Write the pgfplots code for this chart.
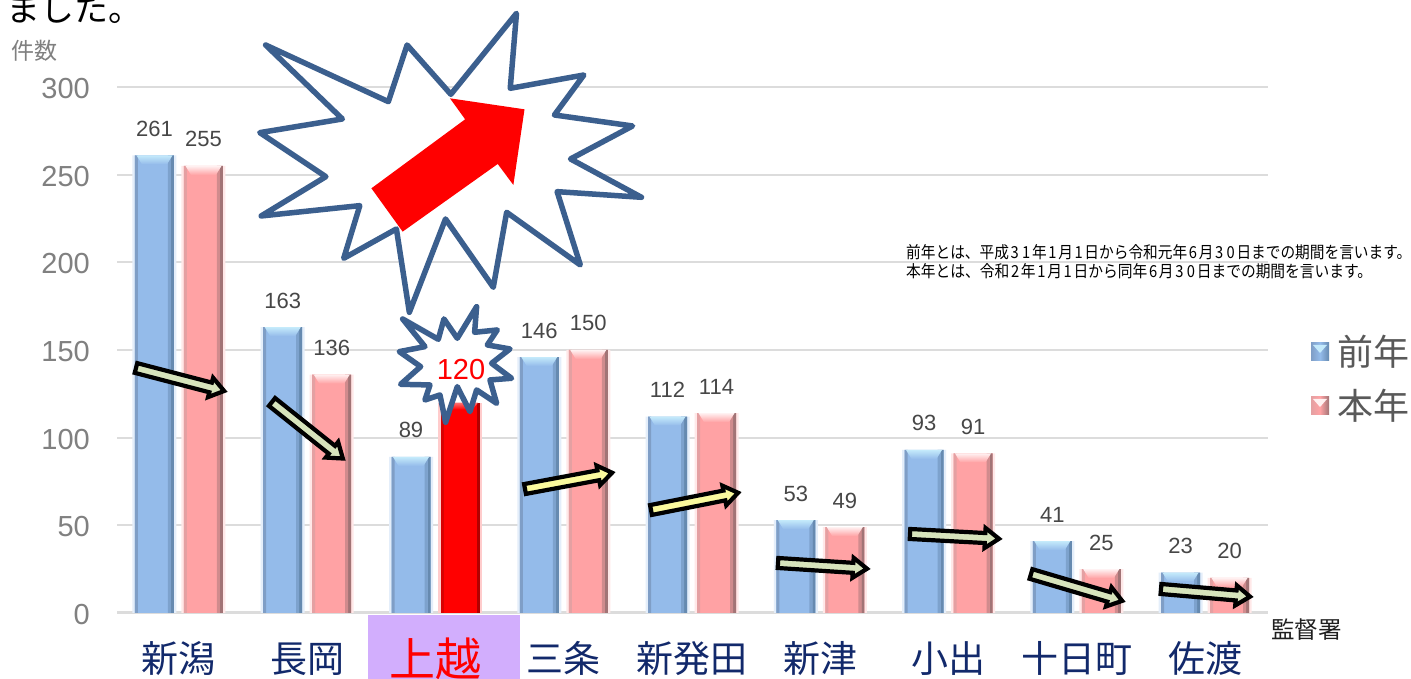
\documentclass[border=0pt]{standalone}
\usepackage{fontspec}
\usepackage{pgfplots}
\usepackage{pgfplotstable}
\pgfplotsset{compat=1.18}
\setmainfont{Liberation Sans}
\newfontfamily\cjk{Noto Sans CJK JP}
\newcommand\fs[1]{\fontsize{#1}{#1}\selectfont}
\definecolor{gridc}{HTML}{DCDCDC}
\definecolor{blueM}{HTML}{94BBEA}
\definecolor{blueL}{HTML}{7F9EC6}
\definecolor{blueR}{HTML}{668AB0}
\definecolor{pinkM}{HTML}{FFA2A4}
\definecolor{pinkL}{HTML}{E4A0A2}
\definecolor{pinkR}{HTML}{A27476}
\definecolor{starc}{HTML}{3B5F8E}
\definecolor{navy}{HTML}{12296B}
\definecolor{purp}{HTML}{D2AEFD}
\definecolor{arrG}{HTML}{D7E4BC}
\definecolor{arrY}{HTML}{FBFA9E}
\definecolor{capBl}{HTML}{C4EAFB}
\pgfplotstableread{
x y
0 261
1 163
2 89
3 146
4 112
5 53
6 93
7 41
8 23
}\blueT
\pgfplotstableread{
x y
0 255
1 136
3 150
4 114
5 49
6 91
7 25
8 20
}\pinkT
\pgfplotstableread{
x y
2 120
}\redT
\pgfdeclareplotmark{capB}{\shade[draw=none,top color=capBl,bottom color=blueM] (-42.5pt,0pt)--(-6.5pt,0pt)--(-12pt,-9pt)--(-37pt,-9pt)--cycle;}
\pgfdeclareplotmark{capP}{\shade[draw=none,top color=pinkM!15!white,bottom color=pinkM] (6.5pt,0pt)--(42.5pt,0pt)--(37pt,-9pt)--(12pt,-9pt)--cycle;}
\pgfdeclareplotmark{capR}{\shade[draw=none,top color=red!55!white,bottom color=red] (6.5pt,0pt)--(42.5pt,0pt)--(37pt,-7pt)--(12pt,-7pt)--cycle;}
\newcommand\strip[4]{\addplot[ybar,bar width=#3pt,bar shift=#2pt,draw=none,fill=#4,forget plot] table {#1};}
\newcommand\fatarrow[5]{%
 \pgfmathsetmacro\Ldx{#3-#1}\pgfmathsetmacro\Ldy{#4-#2}%
 \pgfmathsetmacro\Len{veclen(\Ldx,\Ldy)}%
 \pgfmathsetmacro\ux{\Ldx/\Len}\pgfmathsetmacro\uy{\Ldy/\Len}%
 \pgfmathsetmacro\Hd{\Len-18}%
 \draw[line width=4.2pt,miter limit=10,fill=#5,draw=black]
  ({#1-\uy*5},{#2+\ux*5})
  --({#1+\ux*\Hd-\uy*5},{#2+\uy*\Hd+\ux*5})
  --({#1+\ux*\Hd-\uy*10},{#2+\uy*\Hd+\ux*10})
  --({#1+\ux*(\Len-4)},{#2+\uy*(\Len-4)})
  --({#1+\ux*\Hd+\uy*10},{#2+\uy*\Hd-\ux*10})
  --({#1+\ux*\Hd+\uy*5},{#2+\uy*\Hd-\ux*5})
  --({#1+\uy*5},{#2-\ux*5})--cycle;}
\newcommand\lbl[1]{\textcolor{navy}{\cjk\fs{37}#1}}
\begin{document}
\begin{tikzpicture}
\useasboundingbox (0,0) rectangle (1411pt,679pt);
\fill[white] (0,0) rectangle (1411pt,679pt);
\fill[purp] (368pt,0pt) rectangle (520pt,64pt);
\begin{axis}[
  at={(117pt,66pt)},anchor=south west,
  scale only axis,width=1151pt,height=526pt,
  xmin=-0.4834,xmax=8.4912,ymin=0,ymax=300,
  axis x line*=bottom,axis y line*=left,
  x axis line style={draw=gridc,line width=3pt,-},
  y axis line style={draw=none,-},
  major tick length=0pt,
  ytick={0,50,100,150,200,250,300},
  ymajorgrids,major grid style={draw=gridc,line width=2pt},
  xtick={0,1,2,3,4,5,6,7,8},
  xticklabels={\lbl{新潟},\lbl{長岡},{\raisebox{-3.5pt}{\textcolor{red}{\cjk\fs{46}上越}}},\lbl{三条},\lbl{新発田},\lbl{新津},\lbl{小出},\lbl{十日町},\lbl{佐渡}},
  x tick label style={anchor=base,yshift=-60pt,inner sep=0pt},
  y tick label style={anchor=east,xshift=-27pt,yshift=-1.5pt,inner sep=0pt,text=black!50,font=\fs{29}},
  /pgf/number format/assume math mode=true,
  every node near coord/.style={font=\fs{22},text=black!72,anchor=base,inner sep=0pt},
]
% soft halo and bevelled edges of the bars
\strip{\blueT}{-45}{3}{blueM!25!white}
\strip{\blueT}{-4}{3}{blueM!25!white}
\strip{\pinkT}{4}{3}{pinkM!25!white}
\strip{\pinkT}{45}{3}{pinkM!25!white}
\strip{\redT}{4}{3}{red!20!white}
\strip{\redT}{45}{3}{red!20!white}
\addplot[ybar,bar width=39pt,bar shift=-24.5pt,draw=none,fill=blueM,nodes near coords,nodes near coords style={xshift=-24.5pt,yshift=19pt}] table {\blueT};
\addplot[ybar,bar width=39pt,bar shift=24.5pt,draw=none,fill=pinkM,nodes near coords,nodes near coords style={xshift=24.5pt,yshift=19pt}] table {\pinkT};
\addplot[ybar,bar width=39pt,bar shift=24.5pt,draw=none,fill=red] table {\redT};
\strip{\blueT}{-42.5}{3}{blueL}
\strip{\blueT}{-6.5}{3}{blueR}
\strip{\blueT}{-9.5}{3}{blueR!50!blueM}
\strip{\pinkT}{6.5}{3}{pinkL}
\strip{\pinkT}{42.5}{3}{pinkR}
\strip{\pinkT}{39.5}{3}{pinkR!50!pinkM}
\strip{\redT}{6.5}{3}{red!85!black}
\strip{\redT}{42.5}{3}{red!70!black}
\addplot[only marks,mark=capB,mark options={draw=none}] table {\blueT};
\addplot[only marks,mark=capP,mark options={draw=none}] table {\pinkT};
\addplot[only marks,mark=capR,mark options={draw=none}] table {\redT};
\end{axis}
\begin{scope}[x=1pt,y=-1pt,yshift=679pt]
% large burst
\begin{scope}[x=0.4464pt,y=-0.3333pt]
\draw[starc,line width=5.5pt,line join=round,fill=white] (595,135)--(870,305)--(912,135)--(1010,283)--(1157,40)--(1143,265)--(1308,225)--(1242,345)--(1417,378)--(1278,477)--(1437,592)--(1248,575)--(1300,795)--(1135,637)--(1105,862)--(998,657)--(917,937)--(888,687)--(770,775)--(806,617)--(585,648)--(730,530)--(582,398)--(767,357)--cycle;
\fill[red] (832,565)--(902,695)--(1115,492)--(1150,555)--(1175,328)--(1008,295)--(1042,358)--cycle;
\end{scope}
% small burst
\begin{scope}[x=0.3333pt,y=-0.3333pt,shift={(1140,885)}]
\draw[starc,line width=5.5pt,line join=round,fill=white] (68,72)--(175,133)--(192,72)--(232,130)--(290,35)--(284,112)--(352,105)--(322,150)--(390,162)--(335,205)--(395,250)--(330,255)--(350,325)--(290,285)--(270,350)--(232,275)--(197,382)--(180,300)--(135,315)--(150,270)--(62,268)--(122,215)--(58,170)--(135,155)--cycle;
\end{scope}
\node[text=red,font=\fs{29},inner sep=0pt,anchor=center] at (461,370) {120};
% arrows
\fatarrow{136}{368}{228}{392}{arrG}
\fatarrow{272}{402}{346}{461}{arrG}
\fatarrow{525}{489}{616}{472}{arrY}
\fatarrow{651}{510}{742}{492}{arrY}
\fatarrow{778}{563}{871}{569}{arrG}
\fatarrow{910}{534}{1003}{539}{arrG}
\fatarrow{1031}{574}{1126}{602}{arrG}
\fatarrow{1161}{589}{1254}{597}{arrG}
% text
\node[anchor=base west,inner sep=0pt,font=\cjk\fs{34}] at (6,22) {ました。};
\node[anchor=west,inner sep=0pt,text=black!50,font=\cjk\fs{23}] at (11,51) {件数};
\node[anchor=west,inner sep=0pt,text=black!88,font=\cjk\fs{23.5}] at (1271,630) {監督署};
\newcommand\dg[1]{\makebox[11pt]{#1}}
\node[anchor=west,inner sep=0pt] at (906,252) {\resizebox{505pt}{14pt}{\cjk\fs{14}前年とは、平成\dg{3}\dg{1}年\dg{1}月\dg{1}日から令和元年\dg{6}月\dg{3}\dg{0}日までの期間を言います。}};
\node[anchor=west,inner sep=0pt] at (906,271) {\resizebox{466pt}{14pt}{\cjk\fs{14}本年とは、令和\dg{2}年\dg{1}月\dg{1}日から同年\dg{6}月\dg{3}\dg{0}日までの期間を言います。}};
% legend
\shade[left color=blueL,right color=blueR,middle color=blueM] (1311,343) rectangle (1329,361);
\fill[capBl] (1313,345)--(1327,345)--(1320,353)--cycle;
\shade[left color=pinkL,right color=pinkR,middle color=pinkM] (1311,397) rectangle (1329,415);
\fill[pinkM!15!white] (1313,399)--(1327,399)--(1320,407)--cycle;
\node[anchor=west,inner sep=0pt,text=black!65,font=\cjk\fs{36}] at (1337,352) {前年};
\node[anchor=west,inner sep=0pt,text=black!65,font=\cjk\fs{36}] at (1337,406) {本年};
\end{scope}
\end{tikzpicture}
\end{document}
